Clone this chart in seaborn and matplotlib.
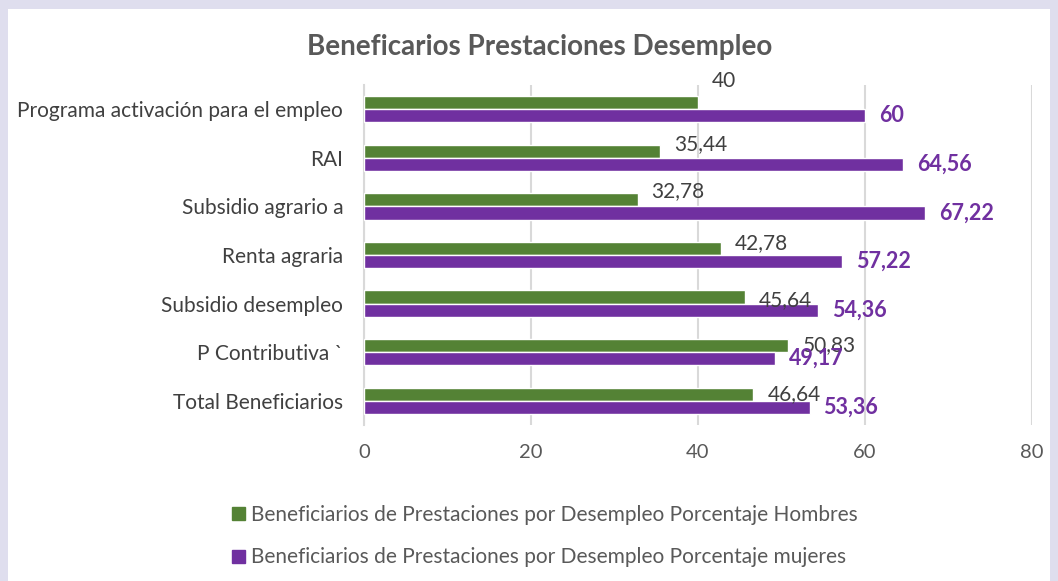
import matplotlib
matplotlib.use("Agg")
import matplotlib.pyplot as plt
import seaborn as sns
import pandas as pd
from matplotlib.patches import Rectangle

categories = ["Programa activación para el empleo", "RAI", "Subsidio agrario a",
              "Renta agraria", "Subsidio desempleo", "P Contributiva `", "Total Beneficiarios"]
hombres = [40, 35.44, 32.78, 42.78, 45.64, 50.83, 46.64]
mujeres = [60, 64.56, 67.22, 57.22, 54.36, 49.17, 53.36]
series = ["Beneficiarios de Prestaciones por Desempleo Porcentaje Hombres",
          "Beneficiarios de Prestaciones por Desempleo Porcentaje mujeres"]
xticks = [0, 20, 40, 60, 80]

# vertical nudge (points) of the men's labels, as placed in the original
h_label_dy = [16, 5, 6, 4, -2, 0, 0]

df = pd.DataFrame({
    "cat": categories * 2,
    "val": hombres + mujeres,
    "serie": [series[0]] * len(categories) + [series[1]] * len(categories),
})

sns.set_theme(style="white")
plt.rcParams["font.family"] = ["Lato", "DejaVu Sans"]

fig = plt.figure(figsize=(10.58, 5.81), dpi=100, facecolor="#dfdeee")
fig.patches.append(Rectangle((8/1058, 0), (1050-8)/1058, 1-9/581, transform=fig.transFigure,
                             facecolor="white", edgecolor="none", zorder=-10))
ax = fig.add_axes([364/1058, 1-425/581, (1032-364)/1058, (425-85)/581])
ax.set_facecolor("none")
ax.set_zorder(2)

green, purple = "#548235", "#7030a0"
sns.barplot(data=df, y="cat", x="val", hue="serie", order=categories, hue_order=series,
            palette=[green, purple], orient="h", width=0.54, saturation=1, ax=ax,
            legend=True, zorder=3)

ax.set_xlim(0, 80)
ax.set_xticks(xticks)
ax.set_xticklabels([str(t) for t in xticks])
ax.set_ylim(6.5, -0.5)
ax.set_xlabel("")
ax.set_ylabel("")
ax.grid(axis="x", color="#d9d9d9", linewidth=1.5, zorder=0)
ax.set_axisbelow(True)
for s in ["top", "right", "bottom"]:
    ax.spines[s].set_visible(False)
ax.spines["left"].set_color("#d9d9d9")
ax.spines["left"].set_linewidth(1.5)
ax.tick_params(axis="both", length=0)
ax.tick_params(axis="y", labelsize=15, labelcolor="#404040", pad=15)
ax.tick_params(axis="x", labelsize=14.5, labelcolor="#595959", pad=14)

cont_h, cont_m = ax.containers[0], ax.containers[1]
for bar, v, dy in zip(cont_h, hombres, h_label_dy):
    y = bar.get_y() + bar.get_height() / 2
    ax.annotate(f"{v:g}".replace(".", ","), (v, y), xytext=(10, dy), textcoords="offset points",
                ha="left", va="center", fontsize=15, color="#404040", zorder=5)
for bar, v in zip(cont_m, mujeres):
    y = bar.get_y() + bar.get_height() / 2
    ax.annotate(f"{v:g}".replace(".", ","), (v, y), xytext=(10, 0), textcoords="offset points",
                ha="left", va="center", fontsize=15.5, color=purple, fontweight="bold", zorder=5)

fig.text(540/1058, 1-47/581, "Beneficarios Prestaciones Desempleo", ha="center", va="center",
         fontsize=20, fontweight="bold", color="#595959")

ax.legend_.remove()
handles = [Rectangle((0, 0), 1, 1, color=green), Rectangle((0, 0), 1, 1, color=purple)]
fig.legend(handles, series, loc="center", bbox_to_anchor=(545/1058, 1-536/581), ncol=1,
           frameon=False, fontsize=15, labelcolor="#595959", handlelength=0.6, handleheight=0.6,
           handletextpad=0.3, labelspacing=1.1)

fig.savefig("out.png", dpi=100, facecolor=fig.get_facecolor())
